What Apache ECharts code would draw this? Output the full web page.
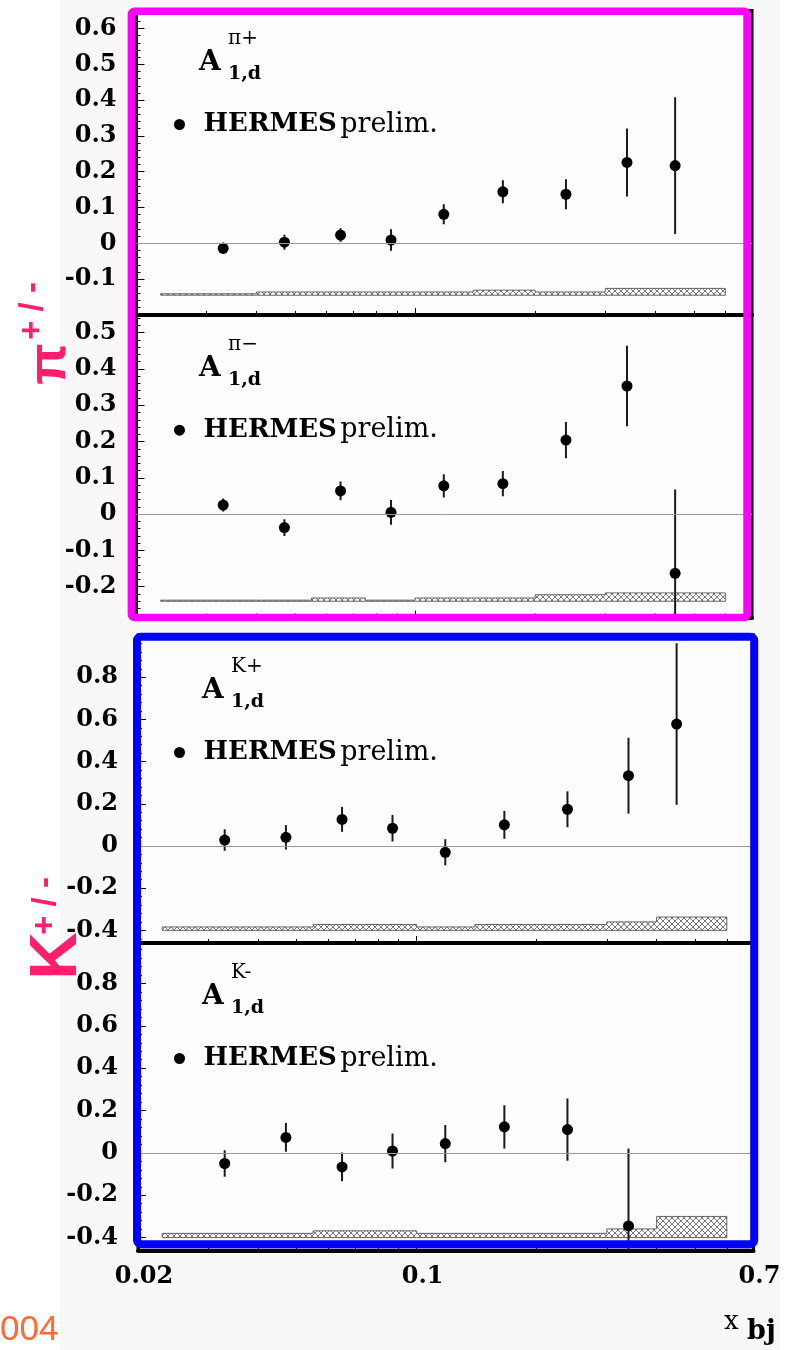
<!DOCTYPE html>
<html><head><meta charset="utf-8">
<script src="https://cdn.jsdelivr.net/npm/echarts@6/dist/echarts.min.js"></script>
<style>html,body{margin:0;padding:0;background:#fff}#c{width:791px;height:1350px}</style>
</head><body><div id="c"></div>
<script>
// ---------- data ----------
const xbj = [0.033, 0.047, 0.065, 0.087, 0.118, 0.166, 0.239, 0.340, 0.449];
const piPlus     = [-0.014, 0.003, 0.023, 0.009, 0.081, 0.144, 0.137, 0.226, 0.217];
const piPlusErr  = [0.016, 0.021, 0.019, 0.030, 0.028, 0.032, 0.042, 0.095, 0.191];
const piMinus    = [0.025, -0.037, 0.064, 0.005, 0.078, 0.084, 0.204, 0.353, -0.163];
const piMinusErr = [0.018, 0.023, 0.026, 0.034, 0.032, 0.035, 0.050, 0.111, 0.231];
const kPlus      = [0.028, 0.041, 0.126, 0.084, -0.030, 0.100, 0.174, 0.333, 0.578];
const kPlusErr   = [0.051, 0.058, 0.059, 0.063, 0.062, 0.066, 0.085, 0.180, 0.383];
const kMinus     = [-0.050, 0.073, -0.066, 0.009, 0.044, 0.123, 0.110, -0.345];
const kMinusErr  = [0.063, 0.068, 0.068, 0.083, 0.088, 0.102, 0.147, 0.366];

// systematic-uncertainty bands (bin edges, height above the band baseline)
const binEdges   = [0.023, 0.04, 0.055, 0.075, 0.1, 0.14, 0.2, 0.3, 0.4, 0.6];
const piPlusSys  = [0.004, 0.009, 0.009, 0.009, 0.009, 0.014, 0.009, 0.019, 0.019];
const piMinusSys = [0.003, 0.003, 0.009, 0.003, 0.009, 0.009, 0.018, 0.023, 0.023];
const kPlusSys   = [0.016, 0.016, 0.028, 0.028, 0.016, 0.028, 0.028, 0.040, 0.063];
const kMinusSys  = [0.020, 0.020, 0.032, 0.032, 0.020, 0.020, 0.020, 0.041, 0.100];
const sysBase    = [-0.145, -0.24, -0.40, -0.40];

// tick labels
const xTickLabels  = [0.02, 0.1, 0.7];
const xMajorTicks  = [0.1];
const xMinorTicks  = [0.02,0.03,0.04,0.05,0.06,0.07,0.08,0.09,0.2,0.3,0.4,0.5,0.6,0.7];
const yLabelsPiP   = [-0.1, 0, 0.1, 0.2, 0.3, 0.4, 0.5, 0.6];
const yLabelsPiM   = [-0.2, -0.1, 0, 0.1, 0.2, 0.3, 0.4, 0.5];
const yLabelsK     = [-0.4, -0.2, 0, 0.2, 0.4, 0.6, 0.8];
const seriesName   = 'HERMES prelim.';
const titles = [['π+'], ['π−'], ['K+'], ['K-']];

// ---------- layout ----------
function minorList(lo, hi, step){ const a=[]; for(let k=Math.ceil(lo/step-1e-9); k*step<=hi+1e-9; k++) a.push(+(k*step).toFixed(4)); return a; }
const panels = [
  {vals:piPlus, errs:piPlusErr, sys:piPlusSys, left:136.5, top:10.6, height:304.3, ymin:-0.2, ymax:0.65, labels:yLabelsPiP, minor:minorList(-0.2,0.65,0.02), titleY:49, legendDot:126},
  {vals:piMinus, errs:piMinusErr, sys:piMinusSys, left:136.5, top:314.5, height:303.1, ymin:-0.285, ymax:0.55, labels:yLabelsPiM, minor:minorList(-0.285,0.55,0.02), titleY:355, legendDot:431.7},
  {vals:kPlus, errs:kPlusErr, sys:kPlusSys, left:138, top:635, height:308, ymin:-0.46, ymax:1.0, labels:yLabelsK, minor:minorList(-0.46,1.0,0.04), titleY:677, legendDot:754},
  {vals:kMinus, errs:kMinusErr, sys:kMinusSys, left:138, top:943.3, height:307, ymin:-0.46, ymax:0.99, labels:yLabelsK, minor:minorList(-0.46,0.99,0.04), titleY:983, legendDot:1060}
];
const plotWidth = 615.5;

// hatch pattern
const pc = document.createElement('canvas'); pc.width = 6; pc.height = 6;
const g = pc.getContext('2d');
g.fillStyle = '#ffffff'; g.fillRect(0,0,6,6);
g.strokeStyle = '#6a6a6a'; g.lineWidth = 0.9;
g.beginPath(); g.moveTo(0,0); g.lineTo(6,6); g.moveTo(6,0); g.lineTo(0,6); g.stroke();
const hatch = {image: pc, repeat: 'repeat'};

const serif = 'DejaVu Serif';
const fmtY = v => Math.abs(v) < 1e-9 ? '0' : String(+(+v).toFixed(2));

const grid = [], xAxis = [], yAxis = [], series = [], legend = [], graphic = [];

graphic.push({type:'rect', z:-100, shape:{x:60, y:0, width:720, height:1350}, style:{fill:'#f8f8f8'}});

panels.forEach((p, i) => {
  grid.push({left:p.left, top:p.top, width:plotWidth, height:p.height, show:true,
    backgroundColor:'#fdfdfd', borderColor:'#000', borderWidth:3, outerBoundsMode:'none', containLabel:false});
  const last = i === panels.length - 1;
  xAxis.push({type:'log', logBase:10, gridIndex:i, min:0.02, max:0.7, position:'bottom',
    axisLine:{show:true, onZero:false, lineStyle:{color:'#000', width:4}},
    axisTick:{show:true, inside:true, length:7, customValues:xMajorTicks, lineStyle:{color:'#000', width:1}},
    axisLabel:{show:last, customValues:xTickLabels, margin:14, padding:[0,0,0,12],
      fontFamily:serif, fontWeight:'bold', fontSize:24, color:'#000', formatter: v => String(+(+v).toFixed(2))},
    splitLine:{show:false}, minorTick:{show:false}});
  xAxis.push({type:'log', logBase:10, gridIndex:i, min:0.02, max:0.7, position:'bottom',
    axisLine:{show:false, onZero:false},
    axisTick:{show:true, inside:true, length:4, customValues:xMinorTicks, lineStyle:{color:'#000', width:1}},
    axisLabel:{show:false}, splitLine:{show:false}});
  yAxis.push({type:'value', gridIndex:i, min:p.ymin, max:p.ymax, position:'left',
    axisLine:{show:true, onZero:false, lineStyle:{color:'#000', width:3}},
    axisTick:{show:true, inside:true, length:8, customValues:p.labels, lineStyle:{color:'#000', width:1}},
    axisLabel:{show:true, customValues:p.labels, margin:20, formatter:fmtY,
      fontFamily:serif, fontWeight:'bold', fontSize:24, color:'#000'},
    splitLine:{show:false}});
  yAxis.push({type:'value', gridIndex:i, min:p.ymin, max:p.ymax, position:'left',
    axisLine:{show:false, onZero:false},
    axisTick:{show:true, inside:true, length:4, customValues:p.minor, lineStyle:{color:'#000', width:1}},
    axisLabel:{show:false}, splitLine:{show:false}});

  const xi = 2*i, yi = 2*i;
  const base = sysBase[i];
  // systematic band
  series.push({type:'custom', xAxisIndex:xi, yAxisIndex:yi, z:2, clip:true, silent:true,
    data: p.sys.map((h, j) => [binEdges[j], binEdges[j+1], base + h, j]),
    renderItem: (params, api) => {
      const j = api.value(3);
      const tl = api.coord([api.value(0), api.value(2)]);
      const br = api.coord([api.value(1), base]);
      const kids = [{type:'rect', shape:{x:tl[0], y:tl[1], width:br[0]-tl[0], height:br[1]-tl[1]}, style:{fill:hatch}}];
      const st = {stroke:'#555', lineWidth:0.9, fill:null};
      kids.push({type:'line', shape:{x1:tl[0], y1:tl[1], x2:br[0], y2:tl[1]}, style:st});
      kids.push({type:'line', shape:{x1:tl[0], y1:br[1], x2:br[0], y2:br[1]}, style:st});
      const prevY = j === 0 ? br[1] : api.coord([api.value(0), base + p.sys[j-1]])[1];
      kids.push({type:'line', shape:{x1:tl[0], y1:prevY, x2:tl[0], y2:tl[1]}, style:st});
      if (j === p.sys.length - 1) kids.push({type:'line', shape:{x1:br[0], y1:tl[1], x2:br[0], y2:br[1]}, style:st});
      return {type:'group', children:kids};
    }});
  // error bars
  series.push({type:'custom', xAxisIndex:xi, yAxisIndex:yi, z:3, clip:true, silent:true,
    data: p.vals.map((v, j) => [xbj[j], v - p.errs[j], v + p.errs[j]]),
    renderItem: (params, api) => {
      const a = api.coord([api.value(0), api.value(1)]);
      const b = api.coord([api.value(0), api.value(2)]);
      return {type:'line', shape:{x1:a[0], y1:a[1], x2:b[0], y2:b[1]}, style:{stroke:'#1a1a1a', lineWidth:2}};
    }});
  // points
  series.push({type:'scatter', name:seriesName, xAxisIndex:xi, yAxisIndex:yi, z:4,
    symbol:'circle', symbolSize:11, itemStyle:{color:'#000', opacity:1},
    data: p.vals.map((v, j) => [xbj[j], v]),
    markLine:{silent:true, symbol:'none', label:{show:false}, animation:false,
      lineStyle:{color:'#9a9a9a', width:1, type:'solid'}, data:[{yAxis:0}]}});

  legend.push({left:169, top:p.legendDot - 20, orient:'vertical', selectedMode:false,
    icon:'circle', itemWidth:38, itemHeight:11, data:[seriesName],
    formatter: () => '{b|HERMES} {r|prelim.}',
    textStyle:{rich:{b:{fontFamily:serif, fontWeight:'bold', fontSize:26, color:'#000'},
                     r:{fontFamily:serif, fontSize:27, color:'#000'}}}});

  // panel title A^{..}_{1,d}
  const ty = p.titleY, tx = i < 2 ? 199 : 202;
  graphic.push({type:'text', x:tx, y:ty, z:10, style:{text:'A', font:'bold 28px "DejaVu Serif"', fill:'#000', verticalAlign:'top'}});
  graphic.push({type:'text', x:tx+29, y:ty-20, z:10, style:{text:titles[i][0], font:'20px "DejaVu Serif"', fill:'#000', verticalAlign:'top'}});
  graphic.push({type:'text', x:tx+29, y:ty+16, z:10, style:{text:'1,d', font:'bold 19px "DejaVu Serif"', fill:'#000', verticalAlign:'top'}});
});

// frames
graphic.push({type:'rect', z:50, shape:{x:131.4, y:11.2, width:615.6, height:606.3, r:3}, style:{fill:null, stroke:'#ff00ff', lineWidth:7.5}});
graphic.push({type:'rect', z:50, shape:{x:137, y:636.7, width:617.2, height:607.5, r:4}, style:{fill:null, stroke:'#0000ff', lineWidth:8}});
// side labels
const pink = '#ff1f6e';
graphic.push({type:'text', x:50, y:364, rotation:Math.PI/2, z:10, style:{text:'π', font:'bold 54px "Liberation Sans"', fill:pink, align:'center', verticalAlign:'middle'}});
graphic.push({type:'text', x:33, y:311, rotation:Math.PI/2, z:10, style:{text:'+ / -', font:'bold 33px "Liberation Sans"', fill:pink, align:'center', verticalAlign:'middle'}});
graphic.push({type:'text', x:58, y:956, rotation:Math.PI/2, z:10, style:{text:'K', font:'bold 66px "Liberation Sans"', fill:pink, align:'center', verticalAlign:'middle'}});
graphic.push({type:'text', x:46, y:906, rotation:Math.PI/2, z:10, style:{text:'+ / -', font:'bold 33px "Liberation Sans"', fill:pink, align:'center', verticalAlign:'middle'}});
graphic.push({type:'text', x:0, y:1330, z:10, style:{text:'004', font:'35px "Liberation Sans"', fill:'#ff6a35', verticalAlign:'middle'}});
// x axis title
graphic.push({type:'text', x:724, y:1322, z:10, style:{text:'x', font:'26px "DejaVu Serif"', fill:'#000', verticalAlign:'middle'}});
graphic.push({type:'text', x:747, y:1332, z:10, style:{text:'bj', font:'bold 27px "DejaVu Serif"', fill:'#000', verticalAlign:'middle'}});

const chart = echarts.init(document.getElementById('c'), null, {renderer:'canvas'});
chart.setOption({animation:false, backgroundColor:'#ffffff', grid, xAxis, yAxis, series, legend, graphic});
</script></body></html>
